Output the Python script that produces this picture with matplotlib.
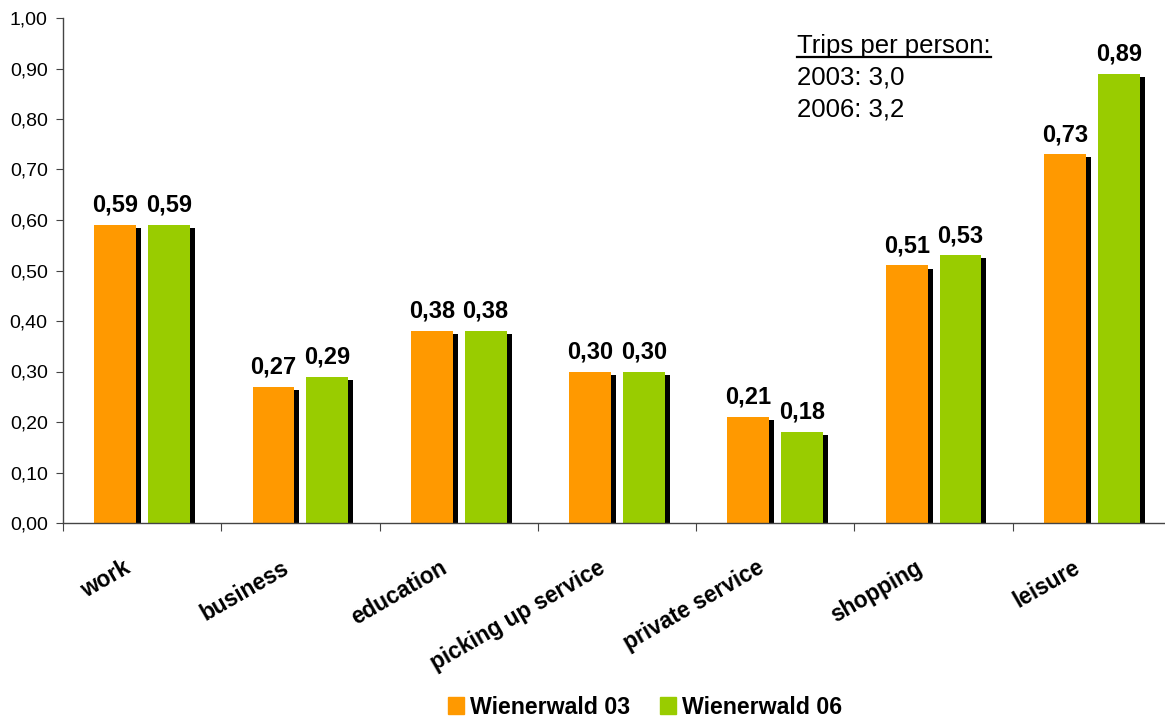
import matplotlib
matplotlib.use("Agg")
import matplotlib.pyplot as plt
import matplotlib.patheffects as pe
from matplotlib.lines import Line2D
from matplotlib.patches import Patch
import numpy as np

categories = ["work", "business", "education", "picking up service",
              "private service", "shopping", "leisure"]
wienerwald_03 = [0.59, 0.27, 0.38, 0.30, 0.21, 0.51, 0.73]
wienerwald_06 = [0.59, 0.29, 0.38, 0.30, 0.18, 0.53, 0.89]
series_names = ["Wienerwald 03", "Wienerwald 06"]
trips_lines = ["2003: 3,0", "2006: 3,2"]

plt.rcParams['font.family'] = ['Liberation Sans', 'DejaVu Sans']

ORANGE = "#FF9900"
GREEN = "#99CC00"


def comma(v):
    return ("%.2f" % v).replace(".", ",")


def main():
    fig = plt.figure(figsize=(11.65, 7.2), dpi=100)
    ax = fig.add_axes([63 / 1165, 197 / 720, 1108 / 1165, 505 / 720])

    x = np.arange(len(categories)) + 0.5
    shadow = [pe.SimplePatchShadow(offset=(3.6, -2.2), shadow_rgbFace="black", alpha=1.0),
              pe.Normal()]

    bars1 = ax.bar(x - 0.17, wienerwald_03, width=0.265, color=ORANGE, zorder=2)
    bars2 = ax.bar(x + 0.17, wienerwald_06, width=0.265, color=GREEN, zorder=2)
    for b in list(bars1) + list(bars2):
        b.set_path_effects(shadow)

    for bars, vals in ((bars1, wienerwald_03), (bars2, wienerwald_06)):
        for b, v in zip(bars, vals):
            ax.annotate(comma(v), (b.get_x() + b.get_width() / 2, v),
                        xytext=(0, 6), textcoords="offset points",
                        ha="center", va="bottom", fontsize=17, fontweight="bold")

    ax.set_xlim(0, len(categories))
    ax.set_ylim(0, 1.0)
    ax.set_yticks(np.arange(0, 1.01, 0.1))
    ax.set_yticklabels([comma(v) for v in np.arange(0, 1.01, 0.1)], fontsize=14)

    # boundary ticks without labels, category names on (invisible) minor ticks
    # set a little left of the group centre
    ax.set_xticks(np.arange(len(categories) + 1))
    ax.set_xticklabels([])
    ax.set_xticks(x - 0.12, minor=True)
    ax.set_xticklabels(categories, minor=True, rotation=30, ha="right",
                       rotation_mode="anchor", fontsize=16.3, fontweight="bold")
    ax.tick_params(axis="x", which="minor", length=0, pad=24)
    ax.tick_params(axis="x", which="major", length=6, direction="out", color="#444444")
    ax.tick_params(axis="y", length=5, direction="out", color="#444444", pad=6)

    for s in ("top", "right"):
        ax.spines[s].set_visible(False)
    for s in ("left", "bottom"):
        ax.spines[s].set_color("#444444")
        ax.spines[s].set_linewidth(1.0)

    # trips per person note, underlined heading
    head = fig.text(797 / 1165, 1 - 46 / 720, "Trips per person:", fontsize=18.5,
                    va="center", ha="left")
    fig.text(797 / 1165, 1 - 78 / 720, trips_lines[0], fontsize=18.5, va="center", ha="left")
    fig.text(797 / 1165, 1 - 109 / 720, trips_lines[1], fontsize=18.5, va="center", ha="left")
    fig.canvas.draw()
    bb = head.get_window_extent().transformed(fig.transFigure.inverted())
    fig.add_artist(Line2D([bb.x0, bb.x1], [bb.y0 + 0.001, bb.y0 + 0.001],
                          color="black", linewidth=1.6, transform=fig.transFigure))

    handles = [Patch(color=ORANGE), Patch(color=GREEN)]
    fig.legend(handles=handles, labels=series_names, loc="center",
               bbox_to_anchor=(645 / 1165, 1 - 707 / 720), ncol=2, frameon=False,
               prop={"weight": "bold", "size": 16.7}, handlelength=0.7, handleheight=0.7,
               handletextpad=0.25, columnspacing=1.3)

    fig.savefig("out.png", dpi=100)


if __name__ == '__main__':
    main()
